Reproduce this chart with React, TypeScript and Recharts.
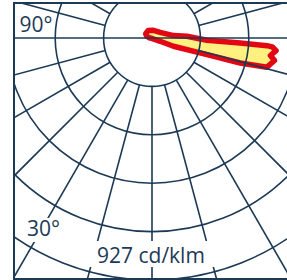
import { PolarAngleAxis, PolarGrid, PolarRadiusAxis, Radar, RadarChart } from "recharts"

// gamma angle (0 = straight down, 90 = horizontal right) and luminous intensity in cd/klm
const gammaDeg = [0, 30, 60, 68.1, 68.9, 73.2, 74.2, 75.7, 77.2, 79.6, 81.6, 84.2, 85.8, 86.2, 86.8, 87.6, 92.8, 96.4, 124.8, 169, 207, 236, 252, 270, 300, 330]
const intensity = [4, 4, 22, 65, 171, 427, 682, 882, 897, 926, 890, 927, 896, 857, 656, 409, 260, 161, 74, 58, 62, 57, 40, 15, 4, 4]

// grid: spokes every 15 degrees, rings
const spokeAngles = [0, 15, 30, 45, 60, 75, 90, 105, 120, 135, 150, 165, 180, 195, 210, 225, 240, 255, 270, 285, 300, 315, 330, 345]
const ringRadii = [48.4, 96.8, 145.2, 193.6, 242, 290.4]
const centerLine = [0, 180]

const scaleLabel = "927 cd/klm"
const angleLabels = ["90°", "30°"]

const W = 287
const H = 280
const CX = 152
const CY = 38
const NAVY = "#1c3a56"
const noMargin = { top: 0, right: 0, bottom: 0, left: 0 }

const data = gammaDeg.map((g, i) => ({ gamma: g, cd: intensity[i] }))

const layer: React.CSSProperties = { position: "absolute", left: -15, top: -4 }

const labelStyle: React.CSSProperties = {
  position: "absolute",
  background: "#fff",
  color: NAVY,
  fontFamily: '"Open Sans", sans-serif',
  fontSize: 21,
  lineHeight: "21px",
  whiteSpace: "nowrap",
}

export default function App() {
  return (
    <div style={{ position: "absolute", left: 0, top: 0, width: W, height: H, overflow: "hidden", background: "#fff" }}>
      <div
        style={{
          position: "absolute",
          left: 13,
          top: 2,
          width: 300,
          height: 278,
          border: `2px solid ${NAVY}`,
          boxSizing: "border-box",
          overflow: "hidden",
        }}
      >
        {/* beam */}
        <div style={layer}>
          <RadarChart width={W} height={H} data={data} cx={CX} cy={CY} outerRadius={269} startAngle={-90} endAngle={270} margin={noMargin}>
            <PolarAngleAxis dataKey="gamma" type="number" domain={[0, 360]} tick={false} axisLine={false} tickLine={false} />
            <PolarRadiusAxis type="number" domain={[0, 2000]} tick={false} axisLine={false} />
            <Radar
              dataKey="cd"
              stroke="#e30613"
              strokeWidth={5.5}
              strokeLinejoin="round"
              fill="#fff07f"
              fillOpacity={1}
              dot={false}
              isAnimationActive={false}
            />
          </RadarChart>
        </div>
        {/* rings and spokes */}
        <div style={layer}>
          <RadarChart width={W} height={H} data={data} cx={CX} cy={CY} innerRadius={48.4} outerRadius={300} margin={noMargin}>
            <PolarGrid gridType="circle" polarAngles={spokeAngles} polarRadius={ringRadii} stroke={NAVY} strokeWidth={1.6} />
          </RadarChart>
        </div>
        {/* horizontal line through the centre */}
        <div style={layer}>
          <RadarChart width={W} height={H} data={data} cx={CX} cy={CY} innerRadius={0} outerRadius={48.4} margin={noMargin}>
            <PolarGrid gridType="circle" polarAngles={centerLine} polarRadius={[]} stroke={NAVY} strokeWidth={1.6} />
          </RadarChart>
        </div>
      </div>
      <div style={{ ...labelStyle, left: 19.5, top: 13.5 }}>{angleLabels[0]}</div>
      <div style={{ ...labelStyle, left: 24, top: 217.5, padding: "0 3px 3px 3px" }}>{angleLabels[1]}</div>
      <div style={{ ...labelStyle, left: 87, top: 241, padding: "3.5px 10px 1.5px 10px" }}>{scaleLabel}</div>
    </div>
  )
}
